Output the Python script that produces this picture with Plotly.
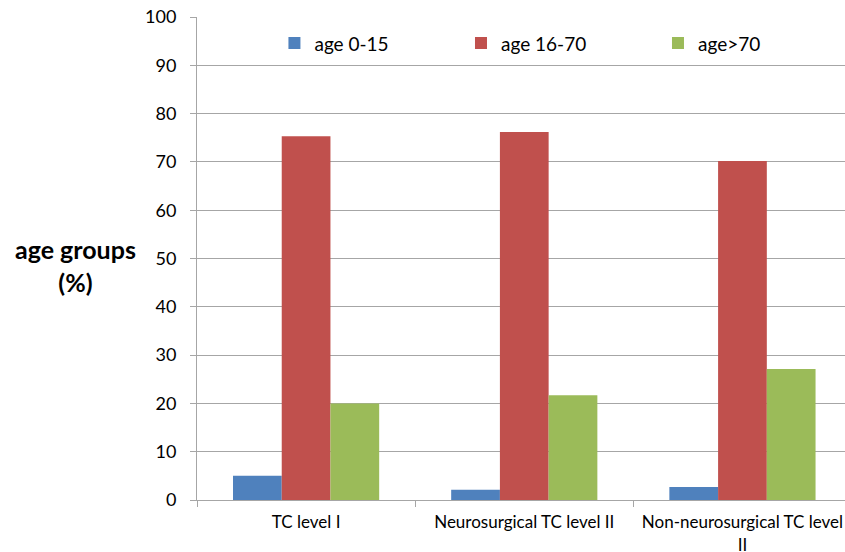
import plotly.graph_objects as go

categories = ["TC level I", "Neurosurgical TC level II", "Non-neurosurgical TC level<br>II"]
series_names = ["age 0-15", "age 16-70", "age>70"]
age_0_15 = [5.0, 2.1, 2.7]
age_16_70 = [75.3, 76.2, 70.2]
age_over_70 = [20.0, 21.7, 27.1]
colors = ["#4F81BD", "#C0504D", "#9BBB59"]
y_ticks = list(range(0, 101, 10))

legend_ids = ["legend", "legend2", "legend3"]
legend_x = [0.1195, 0.4074, 0.7114]

fig = go.Figure()
for name, vals, c, lg in zip(series_names, [age_0_15, age_16_70, age_over_70], colors, legend_ids):
    fig.add_trace(go.Bar(x=categories, y=vals, name=name, legend=lg,
                         marker=dict(color=c, line=dict(width=0))))

legend_common = dict(orientation="h", y=0.985, xanchor="left", yanchor="top",
                     font=dict(size=19), bgcolor="rgba(0,0,0,0)")

fig.update_layout(
    width=845, height=552,
    margin=dict(l=197, r=0, t=17, b=52, autoexpand=False),
    paper_bgcolor="white", plot_bgcolor="white",
    barmode="group", bargap=0.33, bargroupgap=0,
    font=dict(family="Lato, Open Sans, sans-serif", size=16, color="#000000"),
    showlegend=True,
    legend=dict(x=legend_x[0], **legend_common),
    legend2=dict(x=legend_x[1], **legend_common),
    legend3=dict(x=legend_x[2], **legend_common),
    xaxis=dict(range=[-0.5, 2.47], showline=True, linecolor="#A6A6A6", linewidth=1,
               ticks="outside", tickson="boundaries", ticklen=6, tickcolor="#A6A6A6",
               tickfont=dict(size=17), ticklabelstandoff=7, showgrid=False, automargin=False),
    yaxis=dict(range=[0, 100], tickvals=y_ticks, showline=True, linecolor="#A6A6A6",
               linewidth=1, ticks="outside", ticklen=6, tickcolor="#A6A6A6",
               showgrid=True, gridcolor="#A6A6A6", gridwidth=1, zeroline=False,
               tickfont=dict(size=18), ticklabelstandoff=10, automargin=False),
    annotations=[dict(text="<b>age groups<br>(%)</b>", xref="paper", yref="paper",
                      x=-0.188, y=0.485, xanchor="center", yanchor="middle",
                      showarrow=False, font=dict(size=25))],
)

fig.write_html("out.html", config={"displayModeBar": False},
               post_script="document.body.style.margin='0';")
